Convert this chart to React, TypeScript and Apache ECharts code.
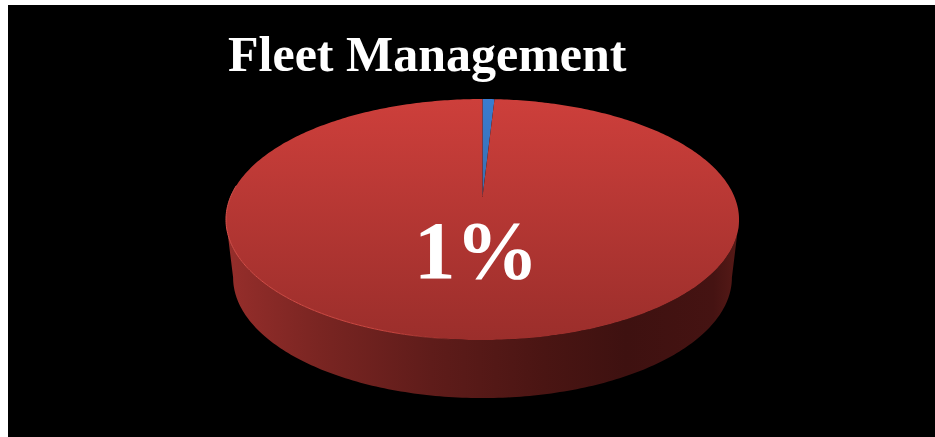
import React, { useEffect, useRef } from "react";
import * as echarts from "echarts";

const categories = ["Fleet Management", "Other"];
const values = [0.9, 99.1];
const titleText = "Fleet Management";
const sliceLabel = "1%";

const K = 0.187;
const OX = 8;
const OY = 5;
const topPlane = { cx: 482.5 - OX, cy: 197 - OY, a: 252, b: 116.3 };
const basePlane = { cx: 482.5 - OX, cy: 255 - OY, a: 245, b: 116.3 };

function project(p: typeof topPlane, theta: number): number[] {
  const d = 1 + K * Math.cos(theta);
  return [p.cx + (p.a * Math.sin(theta)) / d, p.cy - (p.b * Math.cos(theta)) / d];
}

function arcPoints(p: typeof topPlane, from: number, to: number): number[][] {
  const n = Math.max(2, Math.ceil(Math.abs(to - from) / 0.015));
  const out: number[][] = [];
  for (let i = 0; i <= n; i++) out.push(project(p, from + ((to - from) * i) / n));
  return out;
}

const LG = (echarts as any).graphic.LinearGradient;

function renderSlice(params: any, api: any) {
  const idx = params.dataIndex;
  const total = values.reduce((s, v) => s + v, 0);
  const before = values.slice(0, idx).reduce((s, v) => s + v, 0);
  const start = (before / total) * Math.PI * 2;
  const end = ((before + api.value(0)) / total) * Math.PI * 2;
  const children: any[] = [];

  const big = idx === 1;
  if (big) {
    const wallFrom = Math.PI * 0.5 + Math.asin(K);
    const wallTo = Math.PI * 1.5 - Math.asin(K);
    const wall = arcPoints(topPlane, wallFrom, wallTo).concat(arcPoints(basePlane, wallTo, wallFrom));
    children.push({
      type: "polygon",
      shape: { points: wall },
      style: {
        fill: new LG(0, 0, 1, 0, [
          { offset: 0, color: "#962e2b" },
          { offset: 0.18, color: "#7a2522" },
          { offset: 0.4, color: "#5f1c1a" },
          { offset: 0.62, color: "#4a1513" },
          { offset: 0.78, color: "#3e1110" },
          { offset: 0.95, color: "#451312" },
          { offset: 1, color: "#571a17" },
        ]),
      },
    });
  }
  const top = [[topPlane.cx, topPlane.cy]].concat(arcPoints(topPlane, start, end));
  children.push({
    type: "polygon",
    shape: { points: top },
    style: {
      fill: big
        ? new LG(0, 0, 0, 1, [
            { offset: 0, color: "#cd3f3b" },
            { offset: 1, color: "#9b2e2b" },
          ])
        : new LG(0, 0, 0, 1, [
            { offset: 0, color: "#3a7cd0" },
            { offset: 1, color: "#3a6fb0" },
          ]),
    },
  });
  if (big) {
    children.push({
      type: "polyline",
      shape: { points: arcPoints(topPlane, Math.PI * 1.5 + 0.1, Math.PI * 1.02) },
      style: {
        fill: "none",
        lineWidth: 1,
        stroke: new LG(0, 0, 1, 0, [
          { offset: 0, color: "#d6504a" },
          { offset: 0.7, color: "#c8453f" },
          { offset: 1, color: "rgba(200,69,63,0)" },
        ]),
      },
    });
  }
  return { type: "group", children };
}

export default function App() {
  const ref = useRef<HTMLDivElement>(null);
  useEffect(() => {
    const chart = echarts.init(ref.current!, undefined, { renderer: "svg" });
    chart.setOption({
      animation: false,
      backgroundColor: "#000000",
      title: {
        text: titleText,
        left: 215,
        top: 19,
        textStyle: { color: "#ffffff", fontFamily: "Liberation Serif", fontWeight: "bold", fontSize: 50 },
      },
      graphic: [
        {
          type: "text",
          x: 406,
          y: 203,
          z: 10,
          style: { text: sliceLabel, fill: "#ffffff", font: "bold 83px 'Liberation Serif'" },
        },
      ],
      series: [
        {
          type: "custom",
          coordinateSystem: "none",
          renderItem: renderSlice,
          data: values.map((v, i) => ({ name: categories[i], value: [v] })),
          encode: { value: 0 },
        },
      ],
    });
    return () => chart.dispose();
  }, []);
  return <div ref={ref} style={{ position: "absolute", left: OX, top: OY, width: 927, height: 432 }} />;
}
